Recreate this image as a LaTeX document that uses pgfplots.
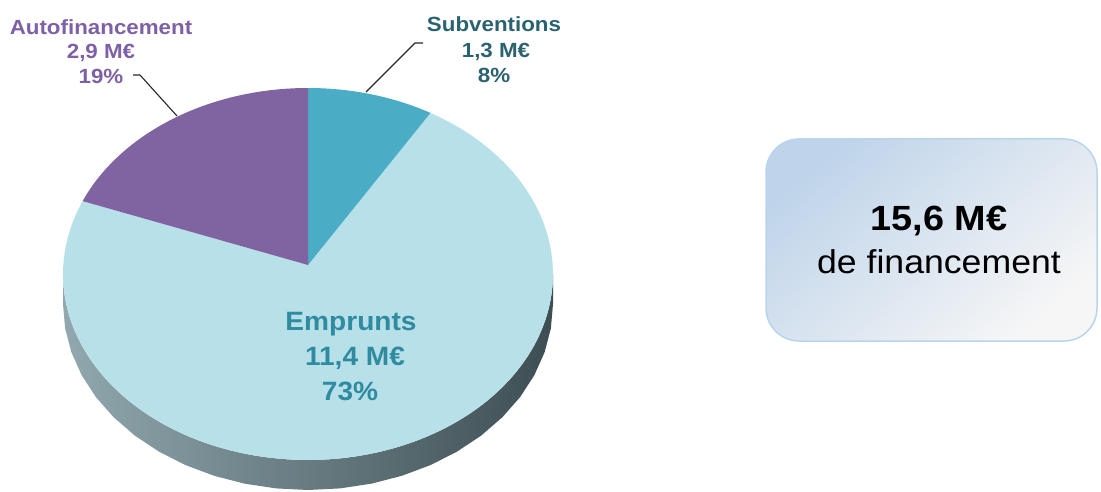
\documentclass[border=0pt]{standalone}
\usepackage{pgfplots}
\pgfplotsset{compat=1.18}
\usepackage{fontspec}
\setmainfont{Liberation Sans}
\definecolor{cS}{HTML}{4BACC6}
\definecolor{cE}{HTML}{B7E0E9}
\definecolor{cA}{HTML}{8064A2}
\definecolor{tA}{HTML}{7D60A6}
\definecolor{tS}{HTML}{2B6270}
\definecolor{tE}{HTML}{2F8BA0}
\definecolor{sideL}{HTML}{91A8AF}
\definecolor{sideM}{HTML}{52676D}
\definecolor{sideR}{HTML}{3D4E53}
\definecolor{boxTL}{HTML}{BFD4EA}
\definecolor{boxM}{HTML}{D4D4D4}
\definecolor{boxBR}{HTML}{F6F6F6}
\definecolor{boxB}{HTML}{B9D5EE}
% data (M EUR)
\def\vS{1.3}
\def\vA{2.9}
\def\vE{11.4}
\pgfmathsetmacro{\tot}{\vS+\vA+\vE}
\pgfmathsetmacro{\aS}{360*\vS/\tot}
\pgfmathsetmacro{\aA}{360*\vA/\tot}
\pgfmathsetmacro{\sS}{90-\aS}
\pgfmathsetmacro{\eA}{90+\aA}
\pgfmathsetmacro{\eE}{450-\aS}
\begin{document}
\begin{tikzpicture}
\begin{axis}[
  width=1101pt, height=492pt, scale only axis,
  xmin=0, xmax=1101, ymin=0, ymax=492, y dir=reverse,
  hide axis, clip=false, samples=90,
]
\path (axis cs:0,0) rectangle (axis cs:1101,492);
% side of the pie
\addplot[draw=none, left color=sideL, middle color=sideM, right color=sideR, domain=180:360, variable=\t]
  ({308+245*cos(t)}, {274-186*sin(t)}) -- (axis cs:553,304)
  -- plot[domain=360:180, variable=\t] ({308+245*cos(\t)}, {304-186*sin(\t)}) -- cycle;
% top faces
\addplot[draw=none, fill=cE, domain=\eA:\eE, variable=\t]
  ({308+245*cos(t)}, {274-186*sin(t)}) -- (axis cs:308,265) -- cycle;
\addplot[draw=none, fill=cS, domain=\sS:90, variable=\t]
  ({308+245*cos(t)}, {274-186*sin(t)}) -- (axis cs:308,265) -- cycle;
\addplot[draw=none, fill=cA, domain=90:\eA, variable=\t]
  ({308+245*cos(t)}, {274-186*sin(t)}) -- (axis cs:308,265) -- cycle;
% leader lines
\addplot[black!85, line width=1.1pt] coordinates {(133,75) (140,75) (177,116)};
\addplot[black!85, line width=1.1pt] coordinates {(423,43) (415,43) (366,92)};
% labels
\begin{scope}[every node/.style={anchor=base, inner sep=0pt, xscale=1.09, font=\fontsize{20.5}{23}\selectfont\bfseries}]
\node[text=tA] at (axis cs:101,35) {Autofinancement};
\node[text=tA] at (axis cs:101,59) {2,9 M€};
\node[text=tA] at (axis cs:101,84) {19\%};
\node[text=tS] at (axis cs:494,32) {Subventions};
\node[text=tS] at (axis cs:496,58) {1,3 M€};
\node[text=tS] at (axis cs:494,83) {8\%};
\end{scope}
\begin{scope}[every node/.style={anchor=base, inner sep=0pt, xscale=1.06, text=tE, font=\fontsize{26.5}{29}\selectfont\bfseries}]
\node at (axis cs:351,330) {Emprunts};
\node at (axis cs:355,365) {11,4 M€};
\node at (axis cs:350,400) {73\%};
\end{scope}
% total box
\draw[boxB, line width=1.5pt, rounded corners=33pt, left color=boxTL, middle color=boxM, right color=boxBR, shading angle=40]
  (axis cs:766,139) rectangle (axis cs:1097,341);
\node[anchor=base, inner sep=0pt, xscale=1.08, font=\fontsize{35}{38}\selectfont\bfseries] at (axis cs:939,230) {15,6 M€};
\node[anchor=base, inner sep=0pt, xscale=1.08, font=\fontsize{33}{36}\selectfont] at (axis cs:939,273) {de financement};
\end{axis}
\end{tikzpicture}
\end{document}
